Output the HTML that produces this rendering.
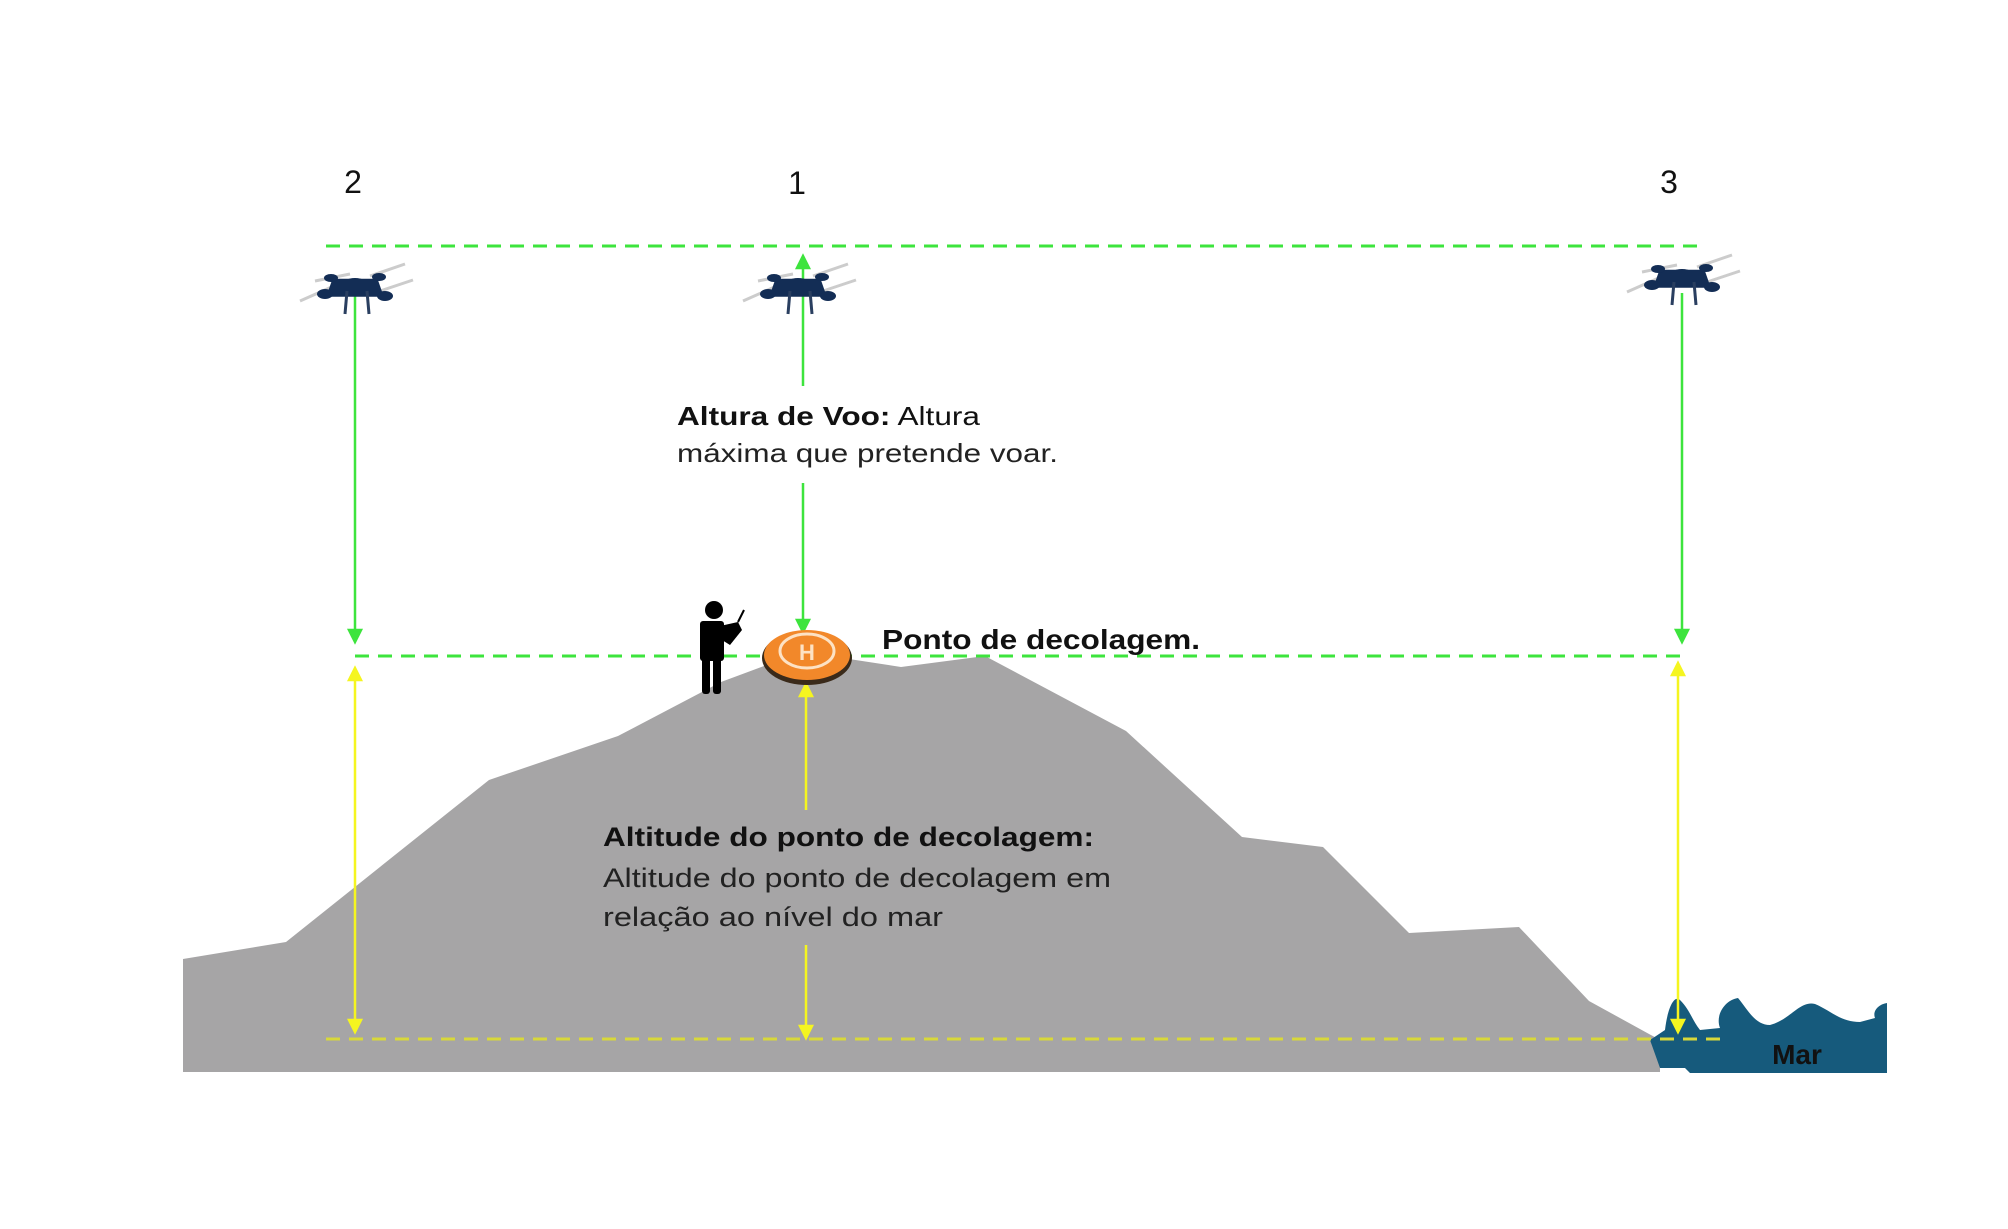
<!DOCTYPE html>
<html><head><meta charset="utf-8"><style>html,body{margin:0;padding:0;background:#fff}svg{display:block}</style></head>
<body>
<svg width="2008" height="1229" viewBox="0 0 2008 1229" xmlns="http://www.w3.org/2000/svg" font-family="Liberation Sans, Arial, sans-serif">
<rect width="2008" height="1229" fill="#fff"/>
<!-- mountain -->
<polygon points="183,959 286,942 489,780 618,736 721,682 772,663 849,659 901,667 985,656 1126,731 1242,837 1323,847 1409,933 1519,927 1589,1001 1660,1040 1660,1072 183,1072" fill="#a6a5a6"/>
<!-- sea -->
<path d="M1650,1040 L1665,1030 C1668,1005 1675,995 1680,1000 C1690,1010 1692,1020 1700,1030 L1720,1028 C1715,1015 1725,1000 1738,998 C1748,1010 1755,1025 1770,1025 C1790,1020 1800,1000 1815,1004 C1830,1010 1840,1022 1860,1022 L1875,1018 C1872,1010 1880,1004 1887,1003 L1887,1073 L1690,1073 L1685,1068 L1660,1068 Z" fill="#165a7c"/>
<text x="1797" y="1064" font-size="28" font-weight="bold" text-anchor="middle" fill="#111">Mar</text>
<!-- labels -->
<text x="353" y="193" font-size="32" text-anchor="middle" fill="#111">2</text>
<text x="797" y="194" font-size="32" text-anchor="middle" fill="#111">1</text>
<text x="1669" y="193" font-size="32" text-anchor="middle" fill="#111">3</text>
<!-- dashed lines -->
<g stroke-dasharray="14,9" stroke-width="3">
<line x1="326" y1="246" x2="1699" y2="246" stroke="#3de43d"/>
<line x1="355" y1="656" x2="1682" y2="656" stroke="#3de43d"/>
<line x1="326" y1="1039" x2="1725" y2="1039" stroke="#d8d83a"/>
</g>
<!-- green arrows -->
<g stroke="#3de43d" stroke-width="2.5" fill="#3de43d">
<line x1="355" y1="296" x2="355" y2="636"/><polygon points="349,630 361,630 355,642"/>
<line x1="803" y1="262" x2="803" y2="386"/><polygon points="797,268 809,268 803,256"/>
<line x1="803" y1="483" x2="803" y2="626"/><polygon points="797,620 809,620 803,632"/>
<line x1="1682" y1="293" x2="1682" y2="636"/><polygon points="1676,630 1688,630 1682,642"/>
</g>
<!-- yellow arrows -->
<g stroke="#f5f520" stroke-width="2.5" fill="#f5f520">
<line x1="355" y1="675" x2="355" y2="1026"/><polygon points="349,680 361,680 355,668"/><polygon points="349,1020 361,1020 355,1032"/>
<line x1="806" y1="690" x2="806" y2="810"/><polygon points="800,696 812,696 806,684"/>
<line x1="806" y1="945" x2="806" y2="1032"/><polygon points="800,1026 812,1026 806,1038"/>
<line x1="1678" y1="670" x2="1678" y2="1026"/><polygon points="1672,675 1684,675 1678,663"/><polygon points="1672,1020 1684,1020 1678,1032"/>
</g>
<!-- text box -->
<rect x="664" y="388" width="420" height="94" fill="#fff"/>
<text x="677" y="425" font-size="26" fill="#111" textLength="303" lengthAdjust="spacingAndGlyphs"><tspan font-weight="bold">Altura de Voo:</tspan> Altura</text>
<text x="677" y="462" font-size="26" fill="#222" textLength="381" lengthAdjust="spacingAndGlyphs">máxima que pretende voar.</text>
<text x="882" y="649" font-size="28" font-weight="bold" fill="#111" textLength="318" lengthAdjust="spacingAndGlyphs">Ponto de decolagem.</text>
<text x="603" y="846" font-size="27" font-weight="bold" fill="#111" textLength="491" lengthAdjust="spacingAndGlyphs">Altitude do ponto de decolagem:</text>
<text x="603" y="887" font-size="27" fill="#222" textLength="508" lengthAdjust="spacingAndGlyphs">Altitude do ponto de decolagem em</text>
<text x="603" y="926" font-size="27" fill="#222" textLength="340" lengthAdjust="spacingAndGlyphs">relação ao nível do mar</text>
<!-- pad -->
<ellipse cx="807" cy="658" rx="45" ry="27" fill="#3a2a1a"/>
<ellipse cx="807" cy="655" rx="43" ry="25" fill="#f2882a"/>
<ellipse cx="807" cy="651" rx="27" ry="17" fill="none" stroke="#fde2c4" stroke-width="3"/>
<text x="807" y="660" font-size="22" font-weight="bold" fill="#fde2c4" text-anchor="middle">H</text>
<!-- person -->
<g fill="#000">
<circle cx="714" cy="610" r="9"/>
<rect x="700" y="621" width="24" height="40" rx="3"/>
<rect x="702" y="658" width="8" height="36" rx="3"/><rect x="713" y="658" width="8" height="36" rx="3"/>
<path d="M720,626 L738,622 L742,630 L730,645 L722,640 Z"/>
<line x1="738" y1="622" x2="744" y2="610" stroke="#000" stroke-width="2"/>
</g>
<!-- drones -->
<defs>
<g id="drone">
<line x1="-55" y1="15" x2="-10" y2="-5" stroke="#ccc" stroke-width="3"/>
<line x1="-40" y1="-5" x2="-5" y2="-12" stroke="#ccc" stroke-width="3"/>
<line x1="15" y1="-10" x2="50" y2="-22" stroke="#ccc" stroke-width="3"/>
<line x1="25" y1="5" x2="58" y2="-6" stroke="#ccc" stroke-width="3"/>
<ellipse cx="0" cy="0" rx="14" ry="8" fill="#132d55"/>
<path d="M-25,-8 L25,-8 L32,12 L-32,12 Z" fill="#132d55" transform="scale(0.9)"/>
<ellipse cx="-24" cy="-8" rx="7" ry="4" fill="#132d55"/>
<ellipse cx="24" cy="-9" rx="7" ry="4" fill="#132d55"/>
<ellipse cx="-30" cy="8" rx="8" ry="5" fill="#132d55"/>
<ellipse cx="30" cy="10" rx="8" ry="5" fill="#132d55"/>
<line x1="-8" y1="5" x2="-10" y2="28" stroke="#2a3f60" stroke-width="3"/>
<line x1="12" y1="5" x2="14" y2="28" stroke="#2a3f60" stroke-width="3"/>
</g>
</defs>
<use href="#drone" x="355" y="286"/>
<use href="#drone" x="798" y="286"/>
<use href="#drone" x="1682" y="277"/>
</svg>
</body></html>
